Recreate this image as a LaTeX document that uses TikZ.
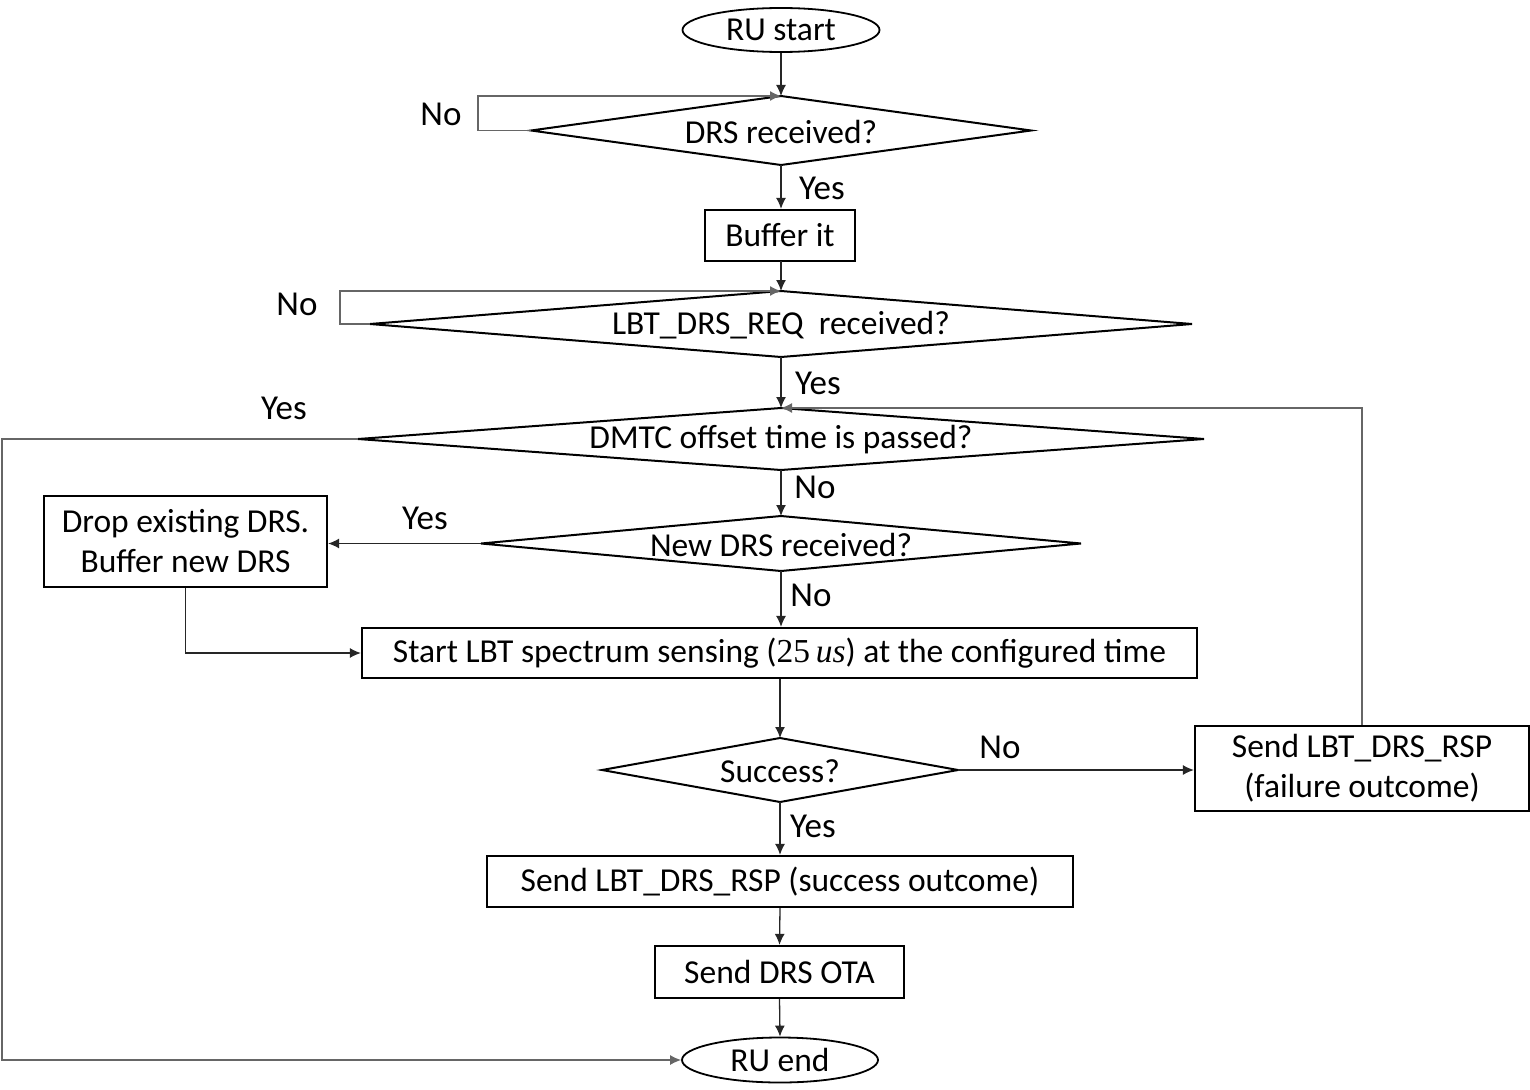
\documentclass[tikz,border=0pt]{standalone}
\usepackage{fontspec}
\setmainfont{Carlito}
\newfontfamily\mserif{Liberation Serif}
\usetikzlibrary{shapes.geometric,arrows.meta}
\newcommand\mkdia[6]{%
  \coordinate (#1) at (#2,#3);
  \coordinate (#1-n) at (#2,#3-#5);
  \coordinate (#1-s) at (#2,#3+#5);
  \coordinate (#1-w) at (#2-#4,#3);
  \coordinate (#1-e) at (#2+#4,#3);
  \draw[dia] (#1-w) -- (#1-n) -- (#1-e) -- (#1-s) -- cycle;
  \node[txt] (#1-t) at (#2,#3+1) {#6};}
\begin{document}
\begin{tikzpicture}[x=1pt,y=-1pt,
 box/.style={draw,line width=2.2pt,inner sep=0pt,align=center,font=\fontsize{33.5}{40}\selectfont},
 term/.style={box,ellipse,line width=1.8pt},
 dia/.style={draw,line width=2pt,line join=miter},
 conn/.style={line width=1.3pt,draw=black!85,-{Latex[length=11pt,width=10pt]}},
 fb/.style={conn,draw=black!60},
 lbl/.style={font=\fontsize{35}{40}\selectfont,inner sep=0pt},
 txt/.style={font=\fontsize{33.5}{36}\selectfont,inner sep=0pt}]
\useasboundingbox (0,0) rectangle (1530,1089);

\node[term,minimum width=197pt,minimum height=44pt] (start) at (781,30) {RU start};
\mkdia{d1}{781}{130.5}{250}{34.5}{DRS received?}
\node[box,minimum width=150pt,minimum height=51pt] (buf) at (780,235.5) {Buffer it};
\mkdia{d2}{781}{324}{411}{33}{LBT\_DRS\_REQ\ \ received?}
\mkdia{d3}{781}{439}{423}{31}{DMTC offset time is passed?}
\mkdia{d4}{781}{543.5}{300}{27.5}{New DRS received?}
\node[box,minimum width=283pt,minimum height=91pt] (drop) at (185.5,541.5) {Drop existing DRS.\\Buffer new DRS};
\node[box,minimum width=835pt,minimum height=50pt] (lbt) at (779.5,653) {Start LBT spectrum sensing ({\mserif 25\,\itshape us}) at the configured time};
\mkdia{d5}{780}{770}{178}{32}{Success?}
\node[box,minimum width=334pt,minimum height=85pt] (fail) at (1362,768.5) {Send LBT\_DRS\_RSP\\(failure outcome)};
\node[box,minimum width=586pt,minimum height=51pt] (succ) at (780,881.5) {Send LBT\_DRS\_RSP (success outcome)};
\node[box,minimum width=249pt,minimum height=52pt] (ota) at (779.5,972) {Send DRS OTA};
\node[term,minimum width=196pt,minimum height=45pt] (end) at (780,1060) {RU end};
\coordinate (lft) at (2,439);

\draw[conn] (start.south) -- (d1-n);
\draw[fb] (d1-w) -- ++(-53,0) |- (d1-n);
\draw[conn] (d1-s) -- (d1-s |- buf.north);
\draw[conn] (buf.south) -- (buf.south -| d2-n) -- (d2-n);
\draw[fb] (d2-w) -- ++(-30,0) |- (d2-n);
\draw[conn] (d2-s) -- (d3-n);
\draw[fb] (d3-w) -- (lft) |- (end.west);
\draw[conn] (d3-s) -- (d4-n);
\draw[conn] (d4-w) -- (d4-w -| drop.east);
\draw[conn] (d4-s) -- (d4-s |- lbt.north);
\draw[conn] (drop.south) |- (lbt.west);
\draw[conn] (d5-n |- lbt.south) -- (d5-n);
\draw[conn] (d5-e) -- (d5-e -| fail.west);
\draw[fb] (fail.north) |- (d3-n);
\draw[conn] (d5-s) -- (d5-s |- succ.north);
\draw[conn] (succ.south) -- (ota.north);
\draw[conn] (ota.south) -- (end.north);

\node[lbl] (l1) at (441,114) {No};
\node[lbl] (l2) at (822,188) {Yes};
\node[lbl] (l3) at (297,304) {No};
\node[lbl] (l4) at (818,383) {Yes};
\node[lbl] (l5) at (284,408) {Yes};
\node[lbl] (l6) at (815,487) {No};
\node[lbl] (l7) at (425,518) {Yes};
\node[lbl] (l8) at (811,595) {No};
\node[lbl] (l9) at (1000,747) {No};
\node[lbl] (l10) at (813,826) {Yes};
\end{tikzpicture}
\end{document}
